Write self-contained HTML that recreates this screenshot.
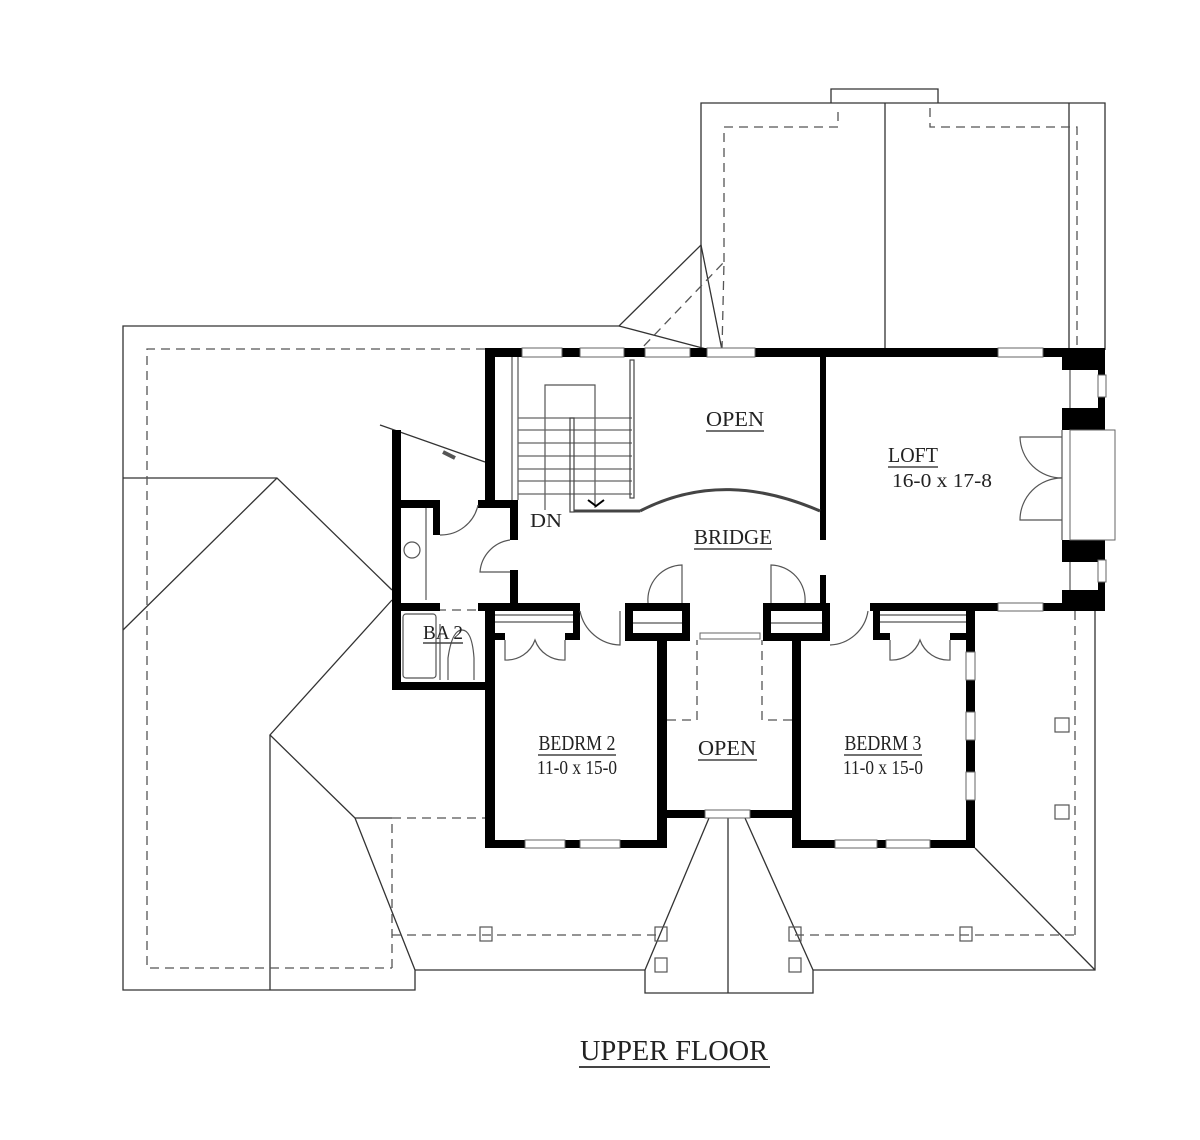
<!DOCTYPE html>
<html><head><meta charset="utf-8"><style>
html,body{margin:0;padding:0;background:#fff;}
svg{display:block;}
text{font-family:"Liberation Serif",serif;fill:#222;}
</style></head><body>
<svg width="1200" height="1140" viewBox="0 0 1200 1140" xmlns="http://www.w3.org/2000/svg">
<rect width="1200" height="1140" fill="#fff"/>
<!-- roof lines -->
<g fill="none" stroke="#333" stroke-width="1.3">
<polyline points="485,326 619,326 701,245 722,350"/>
<line x1="619" y1="326" x2="710" y2="350"/>
<polyline points="701,350 701,103 1105,103 1105,350"/>
<line x1="885" y1="103" x2="885" y2="350"/>
<line x1="1069" y1="103" x2="1069" y2="350"/>
<polyline points="831,103 831,89 938,89 938,103"/>
<polyline points="485,326 123,326 123,990 415,990 415,970 355,818 270,735 392,600"/>
<line x1="270" y1="735" x2="270" y2="990"/>
<polyline points="123,478 277,478 392,590"/>
<line x1="123" y1="630" x2="277" y2="478"/>
<line x1="355" y1="818" x2="392" y2="818"/>
<polyline points="645,970 645,993 813,993 813,970"/>
<line x1="645" y1="970" x2="709" y2="818"/>
<line x1="813" y1="970" x2="745" y2="818"/>
<line x1="728" y1="818" x2="728" y2="993"/>
<polyline points="813,970 1095,970 1095,605"/>
<line x1="975" y1="848" x2="1095" y2="970"/>
<line x1="415" y1="970" x2="645" y2="970"/>
<line x1="380" y1="425" x2="485" y2="462"/>
</g>
<g fill="none" stroke="#555" stroke-width="1.3" stroke-dasharray="9,6">
<polyline points="485,349 147,349 147,968 392,968"/>
<polyline points="392,968 392,818 485,818"/>
<line x1="392" y1="935" x2="660" y2="935"/>
<line x1="795" y1="935" x2="1075" y2="935"/>
<line x1="1075" y1="935" x2="1075" y2="610"/>
<polyline points="722,350 724,262 640,350"/>
<polyline points="724,262 724,127 838,127 838,108"/>
<polyline points="930,108 930,127 1077,127 1077,348"/>
<polyline points="667,720 697,720 697,640"/>
<polyline points="792,720 762,720 762,640"/>
<line x1="392" y1="610" x2="485" y2="610"/>
</g>
<g fill="none" stroke="#555" stroke-width="1.2">
<rect x="480" y="927" width="12" height="14"/><rect x="655" y="927" width="12" height="14"/>
<rect x="789" y="927" width="12" height="14"/><rect x="960" y="927" width="12" height="14"/>
<rect x="655" y="958" width="12" height="14"/><rect x="789" y="958" width="12" height="14"/>
<rect x="1055" y="805" width="14" height="14"/><rect x="1055" y="718" width="14" height="14"/>
</g>
<!-- walls -->
<g fill="#000">
<rect x="485" y="348" width="620" height="9"/>
<rect x="485" y="348" width="10" height="158"/>
<rect x="392" y="430" width="9" height="260"/>
<rect x="392" y="500" width="48" height="8"/>
<rect x="433" y="500" width="7" height="35"/>
<rect x="478" y="500" width="40" height="8"/>
<rect x="510" y="500" width="8" height="40"/>
<rect x="510" y="570" width="8" height="41"/>
<rect x="392" y="603" width="48" height="8"/>
<rect x="478" y="603" width="102" height="8"/>
<rect x="625" y="603" width="65" height="8"/>
<rect x="763" y="603" width="67" height="8"/>
<rect x="870" y="603" width="235" height="8"/>
<rect x="392" y="682" width="103" height="8"/>
<rect x="485" y="603" width="10" height="245"/>
<rect x="573" y="603" width="7" height="37"/>
<rect x="495" y="633" width="10" height="7"/><rect x="565" y="633" width="15" height="7"/>
<rect x="625" y="603" width="8" height="38"/><rect x="682" y="603" width="8" height="38"/>
<rect x="625" y="633" width="65" height="8"/>
<rect x="657" y="633" width="10" height="215"/>
<rect x="763" y="603" width="8" height="38"/><rect x="822" y="603" width="8" height="38"/>
<rect x="763" y="633" width="67" height="8"/>
<rect x="792" y="633" width="9" height="215"/>
<rect x="657" y="810" width="143" height="8"/>
<rect x="485" y="840" width="182" height="8"/>
<rect x="792" y="840" width="183" height="8"/>
<rect x="966" y="603" width="9" height="245"/>
<rect x="873" y="603" width="7" height="37"/><rect x="880" y="633" width="10" height="7"/><rect x="950" y="633" width="16" height="7"/>
<rect x="820" y="357" width="6" height="183"/>
<rect x="820" y="575" width="6" height="36"/>
<rect x="1062" y="348" width="43" height="22"/>
<rect x="1098" y="348" width="7" height="262"/>
<rect x="1062" y="408" width="43" height="22"/>
<rect x="1062" y="540" width="43" height="22"/>
<rect x="1062" y="590" width="43" height="21"/>
</g>
<!-- windows -->
<g fill="#fff" stroke="#666" stroke-width="1">
<rect x="522" y="348" width="40" height="9"/><rect x="580" y="348" width="44" height="9"/>
<rect x="645" y="348" width="45" height="9"/><rect x="707" y="348" width="48" height="9"/>
<rect x="998" y="348" width="45" height="9"/><rect x="998" y="603" width="45" height="8"/>
<rect x="1098" y="375" width="8" height="22"/><rect x="1098" y="560" width="8" height="22"/>
<rect x="525" y="840" width="40" height="8"/><rect x="580" y="840" width="40" height="8"/>
<rect x="835" y="840" width="42" height="8"/><rect x="886" y="840" width="44" height="8"/>
<rect x="705" y="810" width="45" height="8"/>
<rect x="966" y="652" width="9" height="28"/><rect x="966" y="712" width="9" height="28"/>
<rect x="966" y="772" width="9" height="28"/>
<rect x="1070" y="430" width="45" height="110"/>
<rect x="700" y="633" width="60" height="6"/>
</g>
<!-- stairs & fixtures -->
<g fill="none" stroke="#555" stroke-width="1.2">
<line x1="512" y1="357" x2="512" y2="500"/><line x1="518" y1="357" x2="518" y2="500"/>
<polyline points="545,510 545,385 595,385 595,508"/>
<g stroke="#666">
<line x1="518" y1="418" x2="632" y2="418"/><line x1="518" y1="430" x2="632" y2="430"/>
<line x1="518" y1="443" x2="632" y2="443"/><line x1="518" y1="456" x2="632" y2="456"/>
<line x1="518" y1="469" x2="632" y2="469"/><line x1="518" y1="481" x2="632" y2="481"/>
<line x1="518" y1="494" x2="632" y2="494"/>
</g>
<rect x="570" y="418" width="4" height="94" stroke="#444"/>
<rect x="630" y="360" width="4" height="138" stroke="#444"/>
<line x1="574" y1="511" x2="640" y2="511" stroke="#444" stroke-width="3"/>
<path d="M640,511 C700,480 760,485 820,511" stroke="#444" stroke-width="3"/>
<path d="M588,500 L596,506 L604,500" stroke="#000" stroke-width="2"/>
<path d="M440,535 A38,38 0 0 0 478,505"/>
<path d="M510,540 A35,35 0 0 0 480,572 L510,572"/>
<path d="M580,611 A42,42 0 0 0 620,645 L620,611"/>
<path d="M682,603 L682,565 A35,35 0 0 0 648,603"/>
<path d="M771,603 L771,565 A35,35 0 0 1 805,603"/>
<path d="M830,645 A40,40 0 0 0 868,611"/>
<path d="M505,640 L505,660 A30,30 0 0 0 535,640 A30,30 0 0 0 565,660 L565,640"/>
<path d="M890,640 L890,660 A30,30 0 0 0 920,640 A30,30 0 0 0 950,660 L950,640"/>
<path d="M1062,437 L1020,437 A42,42 0 0 0 1062,478 M1062,478 A42,42 0 0 0 1020,520 L1062,520"/>
<line x1="1062" y1="430" x2="1062" y2="540"/>
<line x1="1070" y1="370" x2="1070" y2="408"/><line x1="1070" y1="562" x2="1070" y2="590"/>
<line x1="495" y1="615" x2="573" y2="615"/><line x1="495" y1="622" x2="573" y2="622"/>
<line x1="880" y1="615" x2="966" y2="615"/><line x1="880" y1="622" x2="966" y2="622"/>
<line x1="633" y1="623" x2="682" y2="623"/><line x1="771" y1="623" x2="822" y2="623"/>
<line x1="426" y1="508" x2="426" y2="600"/>
<circle cx="412" cy="550" r="8"/>
<rect x="403" y="614" width="33" height="64" rx="3"/>
<path d="M448,680 L448,658 Q452,630 462,630 Q472,630 474,658 L474,680"/>
<line x1="440" y1="624" x2="440" y2="680"/>
<line x1="443" y1="452" x2="455" y2="458" stroke-width="4"/>
</g>
<!-- labels -->
<g text-anchor="middle">
<text x="735" y="426" font-size="21" textLength="58" lengthAdjust="spacingAndGlyphs">OPEN</text>
<line x1="706" y1="431" x2="764" y2="431" stroke="#444" stroke-width="1.5"/>
<text x="733" y="544" font-size="21" textLength="78" lengthAdjust="spacingAndGlyphs">BRIDGE</text>
<line x1="694" y1="549" x2="772" y2="549" stroke="#444" stroke-width="1.5"/>
<text x="546" y="527" font-size="20" textLength="32" lengthAdjust="spacingAndGlyphs">DN</text>
<text x="913" y="462" font-size="21" textLength="50" lengthAdjust="spacingAndGlyphs">LOFT</text>
<line x1="888" y1="467" x2="938" y2="467" stroke="#444" stroke-width="1.5"/>
<text x="942" y="487" font-size="20" textLength="100" lengthAdjust="spacingAndGlyphs">16-0 x 17-8</text>
<text x="443" y="639" font-size="20" textLength="40" lengthAdjust="spacingAndGlyphs">BA 2</text>
<line x1="423" y1="643" x2="463" y2="643" stroke="#444" stroke-width="1.5"/>
<text x="577" y="750" font-size="21" textLength="77" lengthAdjust="spacingAndGlyphs">BEDRM 2</text>
<line x1="538" y1="755" x2="616" y2="755" stroke="#444" stroke-width="1.5"/>
<text x="577" y="774" font-size="20" textLength="80" lengthAdjust="spacingAndGlyphs">11-0 x 15-0</text>
<text x="727" y="755" font-size="21" textLength="58" lengthAdjust="spacingAndGlyphs">OPEN</text>
<line x1="698" y1="760" x2="757" y2="760" stroke="#444" stroke-width="1.5"/>
<text x="883" y="750" font-size="21" textLength="77" lengthAdjust="spacingAndGlyphs">BEDRM 3</text>
<line x1="844" y1="755" x2="922" y2="755" stroke="#444" stroke-width="1.5"/>
<text x="883" y="774" font-size="20" textLength="80" lengthAdjust="spacingAndGlyphs">11-0 x 15-0</text>
<text x="674" y="1060" font-size="29" textLength="188" lengthAdjust="spacingAndGlyphs">UPPER FLOOR</text>
<line x1="579" y1="1067" x2="770" y2="1067" stroke="#444" stroke-width="2"/>
</g>
</svg>
</body></html>
